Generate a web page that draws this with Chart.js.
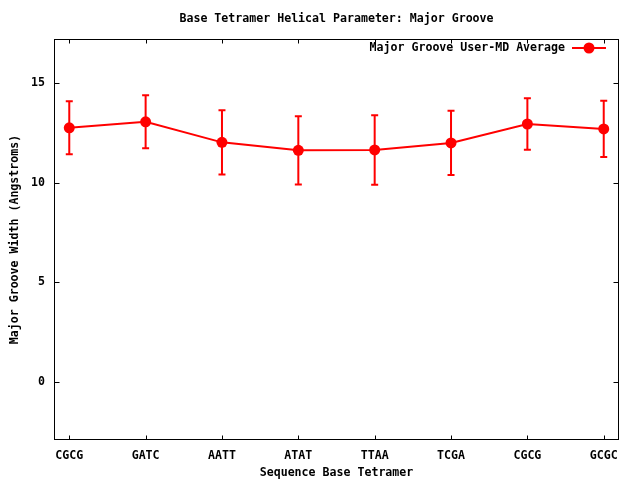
<!DOCTYPE html>
<html><head><meta charset="utf-8">
<script src="https://cdn.jsdelivr.net/npm/chart.js@4"></script>
<style>html,body{margin:0;padding:0;background:#fff}#wrap{width:640px;height:480px}</style>
</head><body><div id="wrap"><canvas id="c" width="640" height="480"></canvas></div>
<script>
const categories = ['CGCG','GATC','AATT','ATAT','TTAA','TCGA','CGCG','GCGC'];
const meanValues = [12.75, 13.05, 12.02, 11.62, 11.64, 11.99, 12.94, 12.69];
const stdValues  = [1.33, 1.33, 1.61, 1.71, 1.74, 1.61, 1.29, 1.41];
const yTickValues = [0, 5, 10, 15];
const seriesLabel = 'Major Groove User-MD Average';
const chartTitle = 'Base Tetramer Helical Parameter: Major Groove';
const xTitle = 'Sequence Base Tetramer';
const yTitle = 'Major Groove Width (Angstroms)';

const FONT = {family: '"DejaVu Sans Mono", "Liberation Mono", monospace', size: 11.6, weight: 'bold'};
const FONT_CSS = 'bold 11.6px "DejaVu Sans Mono", "Liberation Mono", monospace';
const RED = '#ff0000';

const gnuplotPlugin = {
  id: 'gnuplotStyle',
  beforeDatasetsDraw(chart) {
    const {ctx, chartArea: a, scales: {x, y}} = chart;
    ctx.save();
    // frame
    ctx.strokeStyle = '#000';
    ctx.lineWidth = 1;
    const L = Math.round(a.left) + 0.5, R = Math.round(a.right) - 0.5;
    const T = Math.round(a.top) + 0.5, B = Math.round(a.bottom) - 0.5;
    ctx.strokeRect(L, T, R - L, B - T);
    // inward ticks (mirrored)
    ctx.beginPath();
    categories.forEach((c, i) => {
      const px = Math.round(x.getPixelForValue(i)) + 0.5;
      ctx.moveTo(px, B); ctx.lineTo(px, B - 4);
      ctx.moveTo(px, T); ctx.lineTo(px, T + 4);
    });
    yTickValues.forEach(v => {
      const py = Math.round(y.getPixelForValue(v)) + 0.5;
      ctx.moveTo(L, py); ctx.lineTo(L + 5, py);
      ctx.moveTo(R, py); ctx.lineTo(R - 5, py);
    });
    ctx.stroke();
    // error bars
    ctx.strokeStyle = RED;
    ctx.lineWidth = 2;
    meanValues.forEach((m, i) => {
      const px = x.getPixelForValue(i);
      const top = y.getPixelForValue(m + stdValues[i]);
      const bot = y.getPixelForValue(m - stdValues[i]);
      ctx.beginPath();
      ctx.moveTo(px, top); ctx.lineTo(px, bot);
      ctx.moveTo(px - 3.5, top); ctx.lineTo(px + 3.5, top);
      ctx.moveTo(px - 3.5, bot); ctx.lineTo(px + 3.5, bot);
      ctx.stroke();
    });
    ctx.restore();
  },
  afterDraw(chart) {
    const {ctx, chartArea: a} = chart;
    ctx.save();
    ctx.font = FONT_CSS;
    ctx.fillStyle = '#000';
    ctx.textBaseline = 'middle';
    // title
    ctx.textAlign = 'center';
    ctx.fillText(chartTitle, (a.left + a.right) / 2, 19);
    // legend inside plot area
    const ly = a.top + 9;
    const lineEnd = a.right - 13;
    const lineStart = lineEnd - 34;
    ctx.textAlign = 'right';
    ctx.fillText(seriesLabel, lineStart - 7, ly);
    ctx.strokeStyle = RED;
    ctx.lineWidth = 2;
    ctx.beginPath();
    ctx.moveTo(lineStart, ly); ctx.lineTo(lineEnd, ly);
    ctx.stroke();
    ctx.fillStyle = RED;
    ctx.beginPath();
    ctx.arc((lineStart + lineEnd) / 2, ly, 5.5, 0, Math.PI * 2);
    ctx.fill();
    ctx.restore();
  }
};

new Chart(document.getElementById('c'), {
  type: 'line',
  data: {
    datasets: [{
      label: seriesLabel,
      data: meanValues.map((v, i) => ({x: i, y: v})),
      borderColor: RED,
      backgroundColor: RED,
      borderWidth: 2,
      pointRadius: 5.5,
      pointBorderWidth: 0,
      pointBackgroundColor: RED,
      tension: 0,
      fill: false
    }]
  },
  options: {
    responsive: false,
    animation: false,
    devicePixelRatio: 1,
    layout: {padding: {top: 39, right: 21, left: 0, bottom: 0}},
    plugins: {legend: {display: false}, title: {display: false}, tooltip: {enabled: false}},
    scales: {
      x: {
        type: 'linear',
        min: -0.2,
        max: 7.2,
        afterBuildTicks: s => { s.ticks = categories.map((c, i) => ({value: i})); },
        afterFit: s => { s.height = 40; },
        grid: {display: false, drawTicks: false},
        border: {display: false},
        ticks: {
          callback: v => categories[v],
          font: FONT, color: '#000', padding: 9,
          maxRotation: 0, autoSkip: false
        },
        title: {display: true, text: xTitle, font: FONT, color: '#000', padding: {top: 0, bottom: 0}}
      },
      y: {
        type: 'linear',
        min: -2.9,
        max: 17.2,
        afterBuildTicks: s => { s.ticks = yTickValues.map(v => ({value: v})); },
        afterFit: s => { s.width = 54; },
        grid: {display: false, drawTicks: false},
        border: {display: false},
        ticks: {font: FONT, color: '#000', padding: 9},
        title: {display: true, text: yTitle, font: FONT, color: '#000', padding: {top: 8, bottom: 0}}
      }
    }
  },
  plugins: [gnuplotPlugin]
});
</script>
</body></html>
